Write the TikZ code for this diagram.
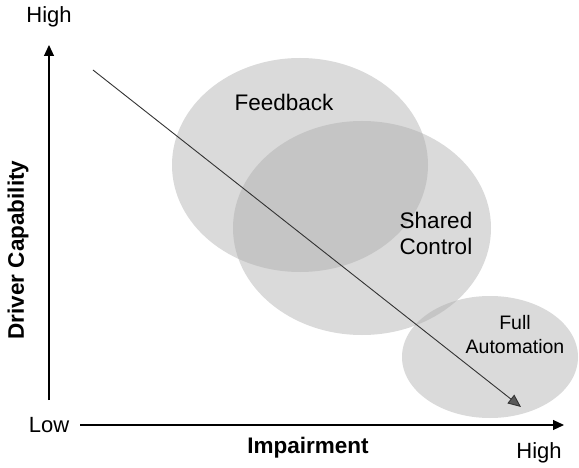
\documentclass[tikz,border=0pt]{standalone}
\usepackage{fontspec}
\setmainfont{Liberation Sans}
\usetikzlibrary{arrows.meta}
\begin{document}
\begin{tikzpicture}[x=1pt,y=-1pt,
  zone/.style={fill=black!32,fill opacity=0.45,draw=none},
  axis/.style={line width=1.1pt,-{Triangle[length=11pt,width=10pt]}},
  trend/.style={draw=black!80,line width=0.9pt,-{Triangle[length=13pt,width=11pt,fill=black!65]}},
  lbl/.style={font=\fontsize{22.5}{26}\selectfont,align=center,inner sep=0pt},
  axlbl/.style={font=\fontsize{22}{26}\selectfont,inner sep=0pt},
  axtitle/.style={font=\fontsize{22.5}{26}\selectfont\bfseries,inner sep=0pt}]
\useasboundingbox (0,0) rectangle (579,468);
\fill[white] (0,0) rectangle (579,468);
% regions
\fill[zone] (300,165) ellipse [x radius=128, y radius=107];
\fill[zone] (362,228) ellipse [x radius=129, y radius=107];
\fill[zone] (490,357) ellipse [x radius=88, y radius=61];
% axes
\coordinate (o) at (49,400);
\coordinate (ytop) at (49,45);
\coordinate (xl) at (80,425);
\coordinate (xr) at (564,425);
\draw[axis] (o) -- (ytop);
\draw[axis] (xl) -- (xr);
% trend arrow
\coordinate (ts) at (93,70);
\coordinate (te) at (521,407);
\draw[trend] (ts) -- (te);
% labels
\node[lbl] (fb) at (284,102) {Feedback};
\node[lbl] (sc) at (436,233) {Shared\\Control};
\node[lbl,font=\fontsize{19.5}{24}\selectfont] (fa) at (515,335) {Full\\Automation};
\node[axlbl] (yhigh) at (49,17) {High};
\node[axlbl] (xlow) at (49,425) {Low};
\node[axlbl] (xhigh) at (539,453) {High};
\node[axtitle] (xt) at (308,448) {Impairment};
\node[axtitle,rotate=90] (yt) at (18,250) {Driver Capability};
\end{tikzpicture}
\end{document}
